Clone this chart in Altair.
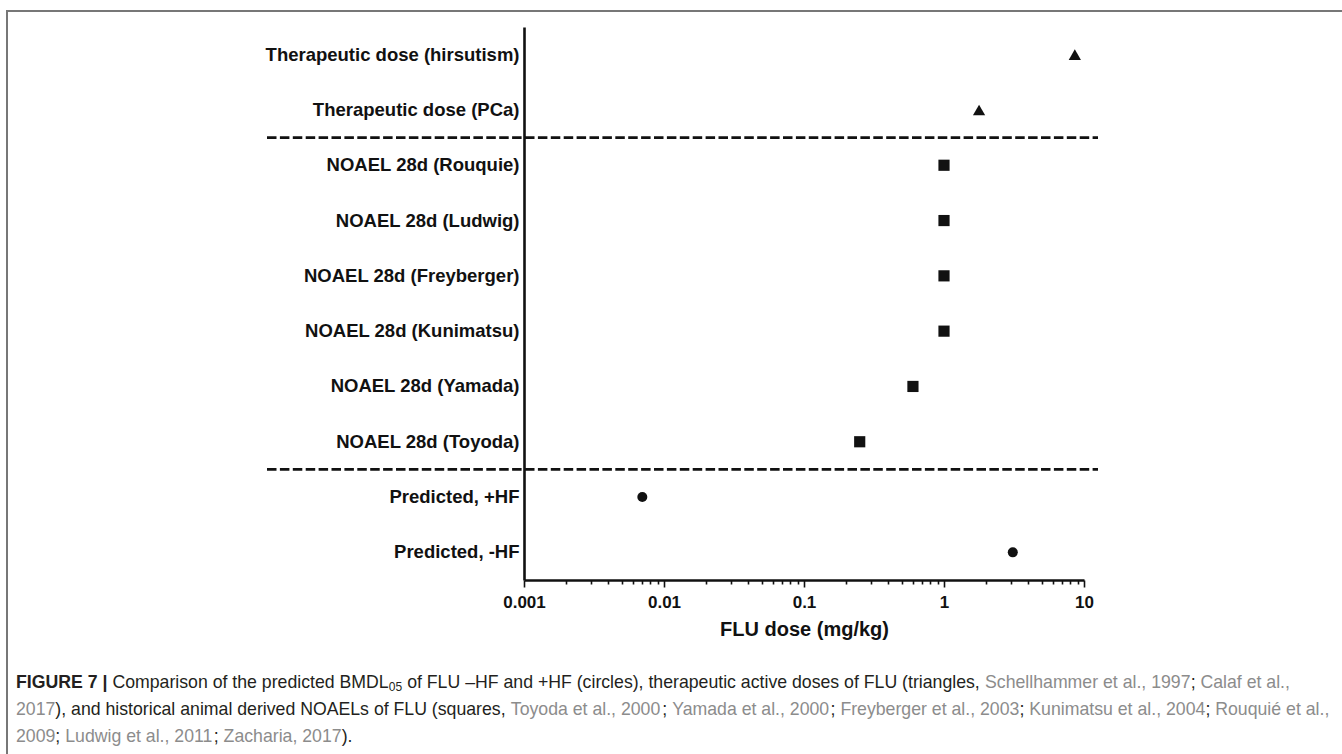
import json
import altair as alt
import pandas as pd

# ---------------- data ----------------
categories = [
    "Therapeutic dose (hirsutism)",
    "Therapeutic dose (PCa)",
    "NOAEL 28d (Rouquie)",
    "NOAEL 28d (Ludwig)",
    "NOAEL 28d (Freyberger)",
    "NOAEL 28d (Kunimatsu)",
    "NOAEL 28d (Yamada)",
    "NOAEL 28d (Toyoda)",
    "Predicted, +HF",
    "Predicted, -HF",
]
doses = [8.6, 1.78, 1.0, 1.0, 1.0, 1.0, 0.6, 0.25, 0.007, 3.1]
marker_groups = ["triangle", "triangle", "square", "square", "square",
                 "square", "square", "square", "circle", "circle"]
separator_rows = ["NOAEL 28d (Rouquie)", "Predicted, +HF"]
x_major_ticks = [0.001, 0.01, 0.1, 1, 10]
x_title = "FLU dose (mg/kg)"

caption_lines = [
    [("FIGURE 7 |", "bold", "black"),
     (" Comparison of the predicted BMDL", "regular", "black"),
     ("05", "sub", "black"),
     (" of FLU \u2013HF and +HF (circles), therapeutic active doses of FLU (triangles, ", "regular", "black"),
     ("Schellhammer et al., 1997", "regular", "gray"),
     ("; ", "regular", "black"),
     ("Calaf et al.,", "regular", "gray")],
    [("2017", "regular", "gray"),
     ("), and historical animal derived NOAELs of FLU (squares, ", "regular", "black"),
     ("Toyoda et al., 2000", "regular", "gray"),
     ("; ", "regular", "black"),
     ("Yamada et al., 2000", "regular", "gray"),
     ("; ", "regular", "black"),
     ("Freyberger et al., 2003", "regular", "gray"),
     ("; ", "regular", "black"),
     ("Kunimatsu et al., 2004", "regular", "gray"),
     ("; ", "regular", "black"),
     ("Rouqui\u00e9 et al.,", "regular", "gray")],
    [("2009", "regular", "gray"),
     ("; ", "regular", "black"),
     ("Ludwig et al., 2011", "regular", "gray"),
     ("; ", "regular", "black"),
     ("Zacharia, 2017", "regular", "gray"),
     (").", "regular", "black")],
]

# ---------------- layout / style ----------------
FONT = "Liberation Sans"
INK = "#111111"
GRAY_TXT = "#8c8c8c"
OX, OY = 524, 27          # plot origin in page pixels
W, H = 560, 553
PAGE_W, PAGE_H = 1342, 754

# Arial/Helvetica advance widths (1/1000 em) for caption layout
REG = {c: 556 for c in "abdeghnopqu0123456789\u2013\u00e9"}
REG.update({c: 500 for c in "ckvxyzs"})
REG.update({"f": 278, "t": 278, "i": 222, "j": 222, "l": 222, "m": 833, "r": 333, "w": 722,
            " ": 278, ",": 278, ".": 278, ";": 278, ":": 278, "(": 333, ")": 333, "+": 584,
            "-": 333, "|": 260,
            "A": 667, "B": 667, "C": 722, "D": 722, "E": 667, "F": 611, "G": 778, "H": 722,
            "I": 278, "K": 667, "L": 556, "M": 833, "N": 722, "O": 778, "P": 667, "R": 722,
            "S": 667, "T": 611, "U": 722, "Y": 667, "Z": 611})
BOLD = {"F": 611, "I": 278, "G": 778, "U": 722, "R": 722, "E": 667, " ": 278, "7": 556, "|": 280}
SUB_SCALE = 0.68


def em_width(text, style):
    table = BOLD if style == "bold" else REG
    w = sum(table.get(ch, 556) for ch in text) / 1000.0
    return w * (SUB_SCALE if style == "sub" else 1.0)


line1_em = sum(em_width(t, s) for t, s, _ in caption_lines[0])
CAP_FS = 1274.0 / line1_em
CAP_X0 = 16 - OX
CAP_Y = [683 - OY, 710 - OY, 737 - OY]

layers = []

# figure border
border = alt.Chart(pd.DataFrame({"k": [0]})).mark_rect(
    fillOpacity=0, stroke="#777777", strokeWidth=2
).encode(
    x=alt.value(7 - OX), x2=alt.value(PAGE_W + 20 - OX),
    y=alt.value(11 - OY), y2=alt.value(PAGE_H + 20 - OY),
)
layers.append(border)

yscale = alt.Scale(domain=categories, type="band", paddingInner=0, paddingOuter=0)
xscale = alt.Scale(type="log", domain=[x_major_ticks[0], x_major_ticks[-1]], nice=False)

minor_ticks = [m * k for m in x_major_ticks[:-1] for k in range(2, 10)]
tick_values = sorted(x_major_ticks + minor_ticks)
major_js = json.dumps(x_major_ticks)
is_major = f"indexof({major_js}, datum.value) >= 0"

xaxis = alt.Axis(
    values=tick_values, format="~g",
    labelExpr=f"{is_major} ? datum.label : ''",
    tickSize={"condition": {"test": is_major, "value": 7}, "value": 4},
    tickWidth=1.6, tickColor=INK, domainColor=INK, domainWidth=2.6,
    labelFont=FONT, labelFontSize=17, labelFontWeight="bold", labelColor=INK,
    labelPadding=7, labelOverlap=False, labelFlush=False,
    title=x_title, titleFont=FONT, titleFontSize=20, titleFontWeight="bold",
    titleColor=INK, titlePadding=9, grid=False,
)
yaxis = alt.Axis(
    ticks=False, tickSize=0, domainColor=INK, domainWidth=2.6,
    labelFont=FONT, labelFontSize=18.5, labelFontWeight="bold", labelColor=INK,
    labelPadding=5, labelLimit=500, title=None, grid=False,
)

# dashed separators
rules = alt.Chart(pd.DataFrame({"label": separator_rows})).mark_rule(
    strokeDash=[9.5, 3.4], strokeWidth=2.6, color=INK
).encode(
    y=alt.Y("label:N", scale=yscale, bandPosition=0),
    x=alt.value(267 - OX), x2=alt.value(1098 - OX),
)
layers.append(rules)

df = pd.DataFrame({"label": categories, "dose": doses, "group": marker_groups})
points = alt.Chart(df).mark_point(filled=True, opacity=1, color=INK).encode(
    x=alt.X("dose:Q", scale=xscale, axis=xaxis),
    y=alt.Y("label:N", scale=yscale, axis=yaxis),
    shape=alt.Shape("group:N",
                    scale=alt.Scale(domain=["triangle", "square", "circle"],
                                    range=["triangle-up", "square", "circle"]),
                    legend=None),
    size=alt.Size("group:N",
                  scale=alt.Scale(domain=["triangle", "square", "circle"],
                                  range=[150, 100, 95]),
                  legend=None),
)
layers.append(points)

# caption
for li, line in enumerate(caption_lines):
    x = CAP_X0
    for text, style, col in line:
        lead = len(text) - len(text.lstrip(" "))
        x_start = x + em_width(" " * lead, "regular") * CAP_FS
        shown = text.strip(" ")
        fs = CAP_FS * (SUB_SCALE if style == "sub" else 1.0)
        dy = 4 if style == "sub" else 0
        t = alt.Chart(pd.DataFrame({"t": [shown]})).mark_text(
            align="left", baseline="middle", font=FONT, fontSize=fs,
            fontWeight="bold" if style == "bold" else "normal",
            color=GRAY_TXT if col == "gray" else "#231f20", dy=dy,
        ).encode(text="t:N", x=alt.value(x_start), y=alt.value(CAP_Y[li]))
        layers.append(t)
        x += em_width(text, style) * CAP_FS

chart = alt.layer(*layers).properties(
    width=W, height=H,
    padding={"left": OX, "top": OY, "right": PAGE_W - OX - W, "bottom": PAGE_H - OY - H},
    autosize=alt.AutoSizeParams(type="none"),
    background="white",
).configure_view(stroke=None)

chart.save("out.html", embed_options={"renderer": "svg", "actions": False})
